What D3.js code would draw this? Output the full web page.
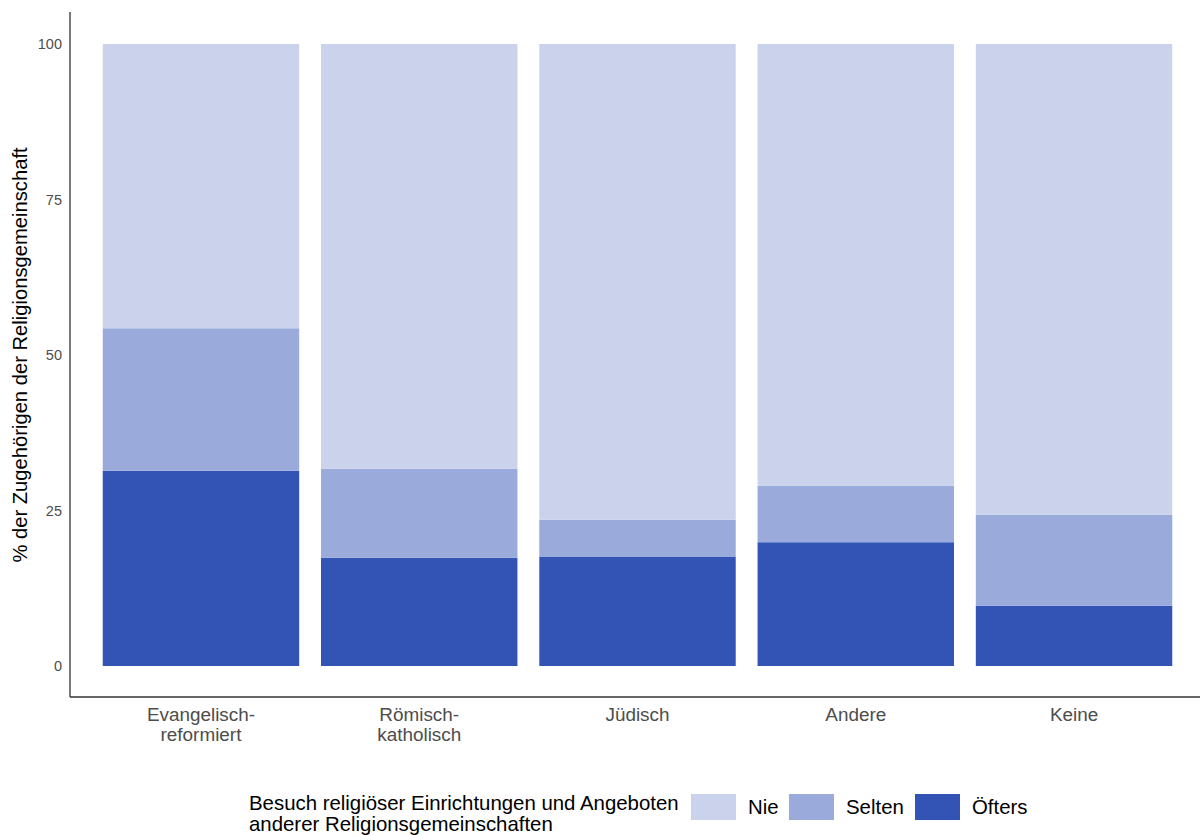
<!DOCTYPE html>
<html><head><meta charset="utf-8">
<script src="https://cdn.jsdelivr.net/npm/d3@7"></script>
<style>body{margin:0;background:#fff}svg{display:block;font-family:"Liberation Sans",Arial,sans-serif}</style>
</head><body><svg id="c" width="1200" height="835"></svg>
<script>
const categories = [["Evangelisch-","reformiert"],["Römisch-","katholisch"],["Jüdisch"],["Andere"],["Keine"]];
const seriesNames = ["Öfters","Selten","Nie"];
const oefters = [31.4, 17.4, 17.6, 19.9, 9.7];
const selten  = [22.9, 14.3, 5.9, 9.1, 14.6];
const nie     = [45.7, 68.3, 76.5, 71.0, 75.7];
const yTicks = [0, 25, 50, 75, 100];
const colors = {"Nie":"#CBD3EC","Selten":"#99AADB","Öfters":"#3354B5"};
const legendOrder = ["Nie","Selten","Öfters"];

const svg = d3.select("#c");
const L = 70, R = 1205, T = 12, B = 697;
const x = d3.scaleBand().domain(d3.range(categories.length)).range([L, R]).paddingInner(0.1).paddingOuter(0.15);
const y = d3.scaleLinear().domain([0, 100]).range([666, 44]);

const rows = categories.map((c,i)=>({i, "Öfters":oefters[i], "Selten":selten[i], "Nie":nie[i]}));
const stack = d3.stack().keys(seriesNames)(rows);

svg.append("g").selectAll("g").data(stack).join("g")
  .attr("fill", d=>colors[d.key])
  .selectAll("rect").data(d=>d).join("rect")
  .attr("x", d=>x(d.data.i)).attr("width", x.bandwidth())
  .attr("y", d=>y(d[1])).attr("height", d=>y(d[0])-y(d[1]));

// axes lines
svg.append("line").attr("x1",L).attr("x2",L).attr("y1",T).attr("y2",B).attr("stroke","#333").attr("stroke-width",1.3);
svg.append("line").attr("x1",L).attr("x2",1200).attr("y1",B).attr("y2",B).attr("stroke","#333").attr("stroke-width",1.3);

// y tick labels
svg.append("g").selectAll("text").data(yTicks).join("text")
  .attr("x", 62).attr("y", d=>y(d)).attr("dy","0.35em").attr("text-anchor","end")
  .attr("font-size",14.5).attr("fill","#4D4D4D").text(d=>d);

// x labels
const xl = svg.append("g").selectAll("text").data(categories).join("text")
  .attr("text-anchor","middle").attr("font-size",18.9).attr("fill","#4D4D4D")
  .attr("transform",(d,i)=>`translate(${x(i)+x.bandwidth()/2},721)`);
xl.selectAll("tspan").data(d=>d).join("tspan").attr("x",0).attr("dy",(d,j)=>j?20:0).text(d=>d);

// y title
svg.append("text").attr("transform","translate(27,355) rotate(-90)").attr("text-anchor","middle")
  .attr("font-size",20.2).attr("fill","#000").text("% der Zugehörigen der Religionsgemeinschaft");

// legend
const lg = svg.append("g");
lg.append("text").attr("x",249).attr("y",810).attr("font-size",20.4).attr("fill","#000").text("Besuch religiöser Einrichtungen und Angeboten");
lg.append("text").attr("x",249).attr("y",831).attr("font-size",20.4).attr("fill","#000").text("anderer Religionsgemeinschaften");
const keyX = [691, 789, 915];
legendOrder.forEach((k,j)=>{
  lg.append("rect").attr("x",keyX[j]).attr("y",794).attr("width",45).attr("height",26).attr("fill",colors[k]);
  lg.append("text").attr("x",keyX[j]+57).attr("y",814).attr("font-size",20.4).attr("fill","#000").text(k);
});
</script></body></html>
